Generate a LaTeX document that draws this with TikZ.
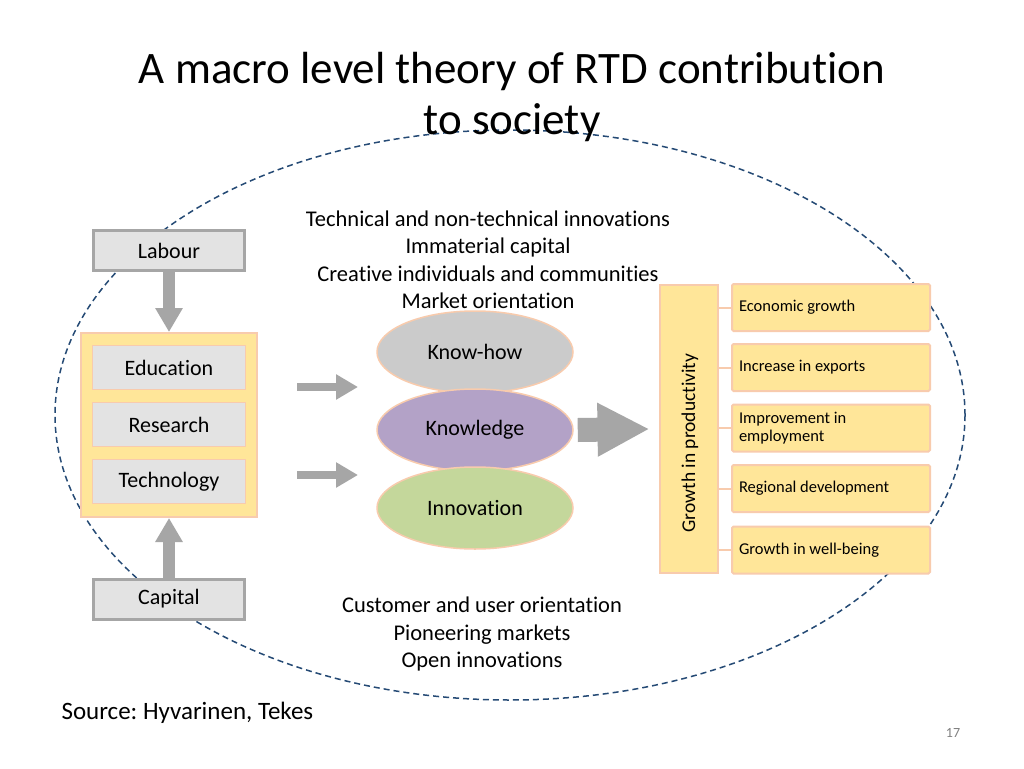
\documentclass[tikz,border=0pt]{standalone}
\usepackage{fontspec}
\setmainfont[Ligatures={NoCommon}]{Carlito}
\usetikzlibrary{arrows.meta,shapes.geometric,calc}
\frenchspacing
\definecolor{boxgray}{HTML}{E3E3E3}
\definecolor{linegray}{HTML}{A6A6A6}
\definecolor{gold}{HTML}{FFE699}
\definecolor{peach}{HTML}{F8CBAD}
\definecolor{navy}{HTML}{254A75}
\definecolor{khgray}{HTML}{CBCBCB}
\definecolor{kpurple}{HTML}{B3A2C7}
\definecolor{igreen}{HTML}{C4D79B}
\tikzset{
  graybox/.style={draw=linegray,line width=3pt,fill=boxgray,minimum width=151pt,minimum height=40pt,font=\fontsize{22}{26}\selectfont},
  innerbox/.style={draw=peach,line width=1.5pt,fill=boxgray,minimum width=153pt,minimum height=44pt,font=\fontsize{22}{26}\selectfont},
  goldbox/.style={draw=peach,line width=2pt,fill=gold},
  resbox/.style={goldbox,rounded corners=1.5pt,minimum width=198pt,minimum height=47pt,text width=184pt,align=flush left,font=\fontsize{16.5}{17.5}\selectfont},
  blob/.style={ellipse,draw=peach,line width=1.5pt,minimum width=196pt,minimum height=82pt,font=\fontsize{22}{26}\selectfont},
  vertarrow/.style={draw=linegray,line width=12pt,-{Triangle[width=26pt,length=24pt]}},
  smallarrow/.style={draw=linegray,line width=8pt,-{Triangle[width=24pt,length=22pt]}},
  bigarrow/.style={draw=linegray,line width=24pt,-{Triangle[width=50pt,length=52pt]}},
  conn/.style={draw=peach,line width=2pt},
  txt/.style={align=center,font=\fontsize{22.5}{27.5}\selectfont},
}
\begin{document}
\begin{tikzpicture}[x=1pt,y=-1pt]
\useasboundingbox (0,0) rectangle (1024,768);
\fill[white] (0,0) rectangle (1024,768);
% dashed ellipse (behind)
\draw[navy,line width=1.5pt,dash pattern=on 6pt off 4pt] (510,415) ellipse [x radius=455,y radius=285];
% title
\node[align=center,font=\fontsize{45}{51}\selectfont] (title) at (512,97) {A macro level theory of RTD contribution\\to society};
% top text
\node[txt] (toptext) at (488,260) {Technical and non-technical innovations\\Immaterial capital\\Creative individuals and communities\\Market orientation};
% bottom text
\node[txt] (bottext) at (482,634) {Customer and user orientation\\Pioneering markets\\Open innovations};
% left column
\node[graybox] (labour) at (169,250.5) {Labour};
\node[goldbox,minimum width=176pt,minimum height=184pt] (block) at (169,425) {};
\node[innerbox] (edu) at (169,367.5) {Education};
\node[innerbox] (res) at (169,424.5) {Research};
\node[innerbox] (tech) at (169,481.5) {Technology};
\node[graybox] (capital) at (169,599) {Capital};
\draw[vertarrow] (labour.south) -- (block.north);
\draw[vertarrow] (capital.north) -- (block.south);
% ellipses
\node[blob,fill=khgray] (knowhow) at (475,352) {Know-how};
\node[blob,fill=kpurple] (knowledge) at (475,430) {Knowledge};
\node[blob,fill=igreen] (innovation) at (475,508) {Innovation};
\coordinate (a1s) at (297,387);
\coordinate (a1e) at (358,387);
\coordinate (a2s) at (297,475);
\coordinate (a2e) at (358,475);
\draw[smallarrow] (a1s) -- (a1e);
\draw[smallarrow] (a2s) -- (a2e);
% right side
\node[goldbox,minimum width=58pt,minimum height=288pt] (growth) at (688.5,429) {};
\node[rotate=90,font=\fontsize{19.5}{21}\selectfont] (growthlbl) at (690,443) {Growth in productivity};
\draw[bigarrow] ($(knowledge.east)+(4,0)$) -- ($(growth.west)+(-9,0)$);
\node[resbox] (eg) at (831,307.5) {Economic growth};
\node[resbox] (ie) at (831,367.5) {Increase in exports};
\node[resbox] (ip) at (831,428) {Improvement in\\employment};
\node[resbox] (rd) at (831,488.5) {Regional development};
\node[resbox] (gw) at (831,550) {Growth in well-being};
\foreach \b in {eg,ie,ip,rd,gw}{\draw[conn] (growth.east |- \b.west) -- (\b.west);}
% source and page
\node[anchor=west,font=\fontsize{25}{29}\selectfont] (source) at (58,713) {Source: Hyvarinen, Tekes};
\node[text=gray,font=\fontsize{14}{16}\selectfont] (page) at (953,733) {17};
\end{tikzpicture}
\end{document}
